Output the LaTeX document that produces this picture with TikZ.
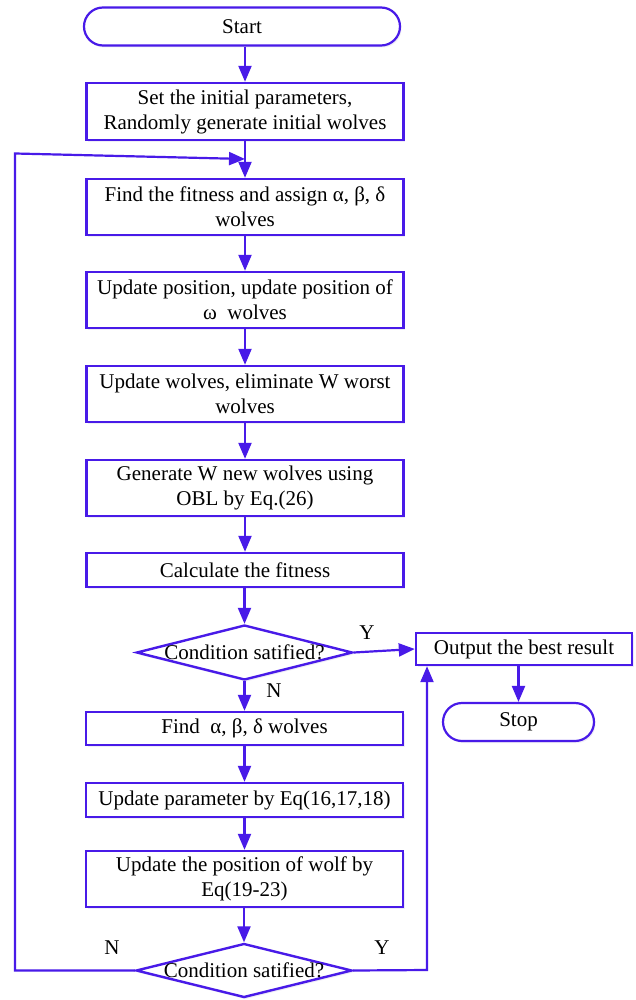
\documentclass[tikz,border=0pt]{standalone}
\usepackage{fontspec}
\setmainfont{Liberation Serif}
\usetikzlibrary{arrows.meta,shapes.geometric,shadows}
\definecolor{flow}{RGB}{72,26,232}

\begin{document}
\begin{tikzpicture}[x=1pt,y=-1pt,
  every node/.style={font=\fontsize{21}{25}\selectfont},
  halo/.style={drop shadow={opacity=0.10, fill=flow!40!gray, shadow xshift=1.5pt, shadow yshift=-2pt}},
  box/.style={rectangle, draw=flow, line width=2.4pt, fill=white, align=center,
              inner sep=0pt, minimum width=317pt, halo},
  term/.style={rectangle, rounded corners=19pt, draw=flow, line width=2.2pt, fill=white,
               inner sep=0pt, minimum height=38pt, halo},
  decide/.style={diamond, draw=flow, line width=2.4pt, fill=white, inner sep=0pt,
                 minimum width=216pt, minimum height=55pt, halo},
  ln/.style={draw=flow, line width=2.2pt},
  arr/.style={ln, -{Triangle[length=16pt,width=13pt]}},
  tag/.style={inner sep=0pt}
]
\useasboundingbox[fill=white] (0,0) rectangle (636,1000);

% main column
\node[term, minimum width=316pt] (start) at (242,26.5) {Start};
\node[box, minimum height=57pt] (init) at (245,111.5)
  {Set the initial parameters,\\Randomly generate initial wolves};
\node[box, minimum height=56pt] (fit) at (245,207)
  {Find the fitness and assign α, β, δ\\wolves};
\node[box, minimum height=56pt] (upos) at (245,300)
  {Update position, update position of\\ω\ \ wolves};
\node[box, minimum height=56pt] (elim) at (245,394)
  {Update wolves, eliminate W worst\\wolves};
\node[box, minimum height=56pt] (obl) at (245,488)
  {Generate W new wolves using\\OBL by Eq.(26)};
\node[box, minimum height=34pt] (calc) at (245,570) {Calculate the fitness};
\node[decide] (c1) at (244.5,652.5) {};
\node[tag] (c1t) at (c1) {Condition satified?};
\node[box, minimum height=33pt] (lead) at (244.5,728.5) {Find\ \ α, β, δ wolves};
\node[box, minimum height=34pt] (param) at (244.5,800) {Update parameter by Eq(16,17,18)};
\node[box, minimum height=56pt] (wolf) at (244.5,879)
  {Update the position of wolf by\\Eq(19-23)};
\node[decide, minimum height=54pt] (c2) at (244,970.5) {};
\node[tag] (c2t) at (c2) {Condition satified?};

% exit branch
\node[box, minimum width=216pt, minimum height=32pt] (best) at (524,649) {Output the best result};
\node[term, minimum width=151pt] (stop) at (518.5,722) {Stop};

% branch labels
\node[tag] (y1) at (367,633) {Y};
\node[tag] (n1) at (274,691) {N};
\node[tag] (n2) at (112,948) {N};
\node[tag] (y2) at (382,948) {Y};

% sequential flow
\draw[arr] (start.south -| init.north) -- (init.north);
\draw[arr] (init.south) -- (fit.north);
\draw[arr] (fit.south) -- (upos.north);
\draw[arr] (upos.south) -- (elim.north);
\draw[arr] (elim.south) -- (obl.north);
\draw[arr] (obl.south) -- (calc.north);
\draw[arr] (calc.south -| c1.north) -- (c1.north);
\draw[arr] (c1.south) -- (lead.north);
\draw[arr] (lead.south) -- (param.north);
\draw[arr] (param.south) -- (wolf.north);
\draw[arr] (wolf.south -| c2.north) -- (c2.north);

% Y from first check
\draw[arr] (c1.east) -- (best.west);
\draw[arr] (best.south -| stop.north) -- (stop.north);

% loop back on N
\coordinate (lb) at (15,970.5);
\coordinate (lt) at (15,153.5);
\coordinate (lj) at (245,159);
\draw[arr] (c2.west) -- (lb) -- (lt) -- (lj);

% Y from second check
\coordinate (rb) at (427,970);
\draw[arr] (c2.east) -- (rb) -- (rb |- best.south);
\end{tikzpicture}
\end{document}
